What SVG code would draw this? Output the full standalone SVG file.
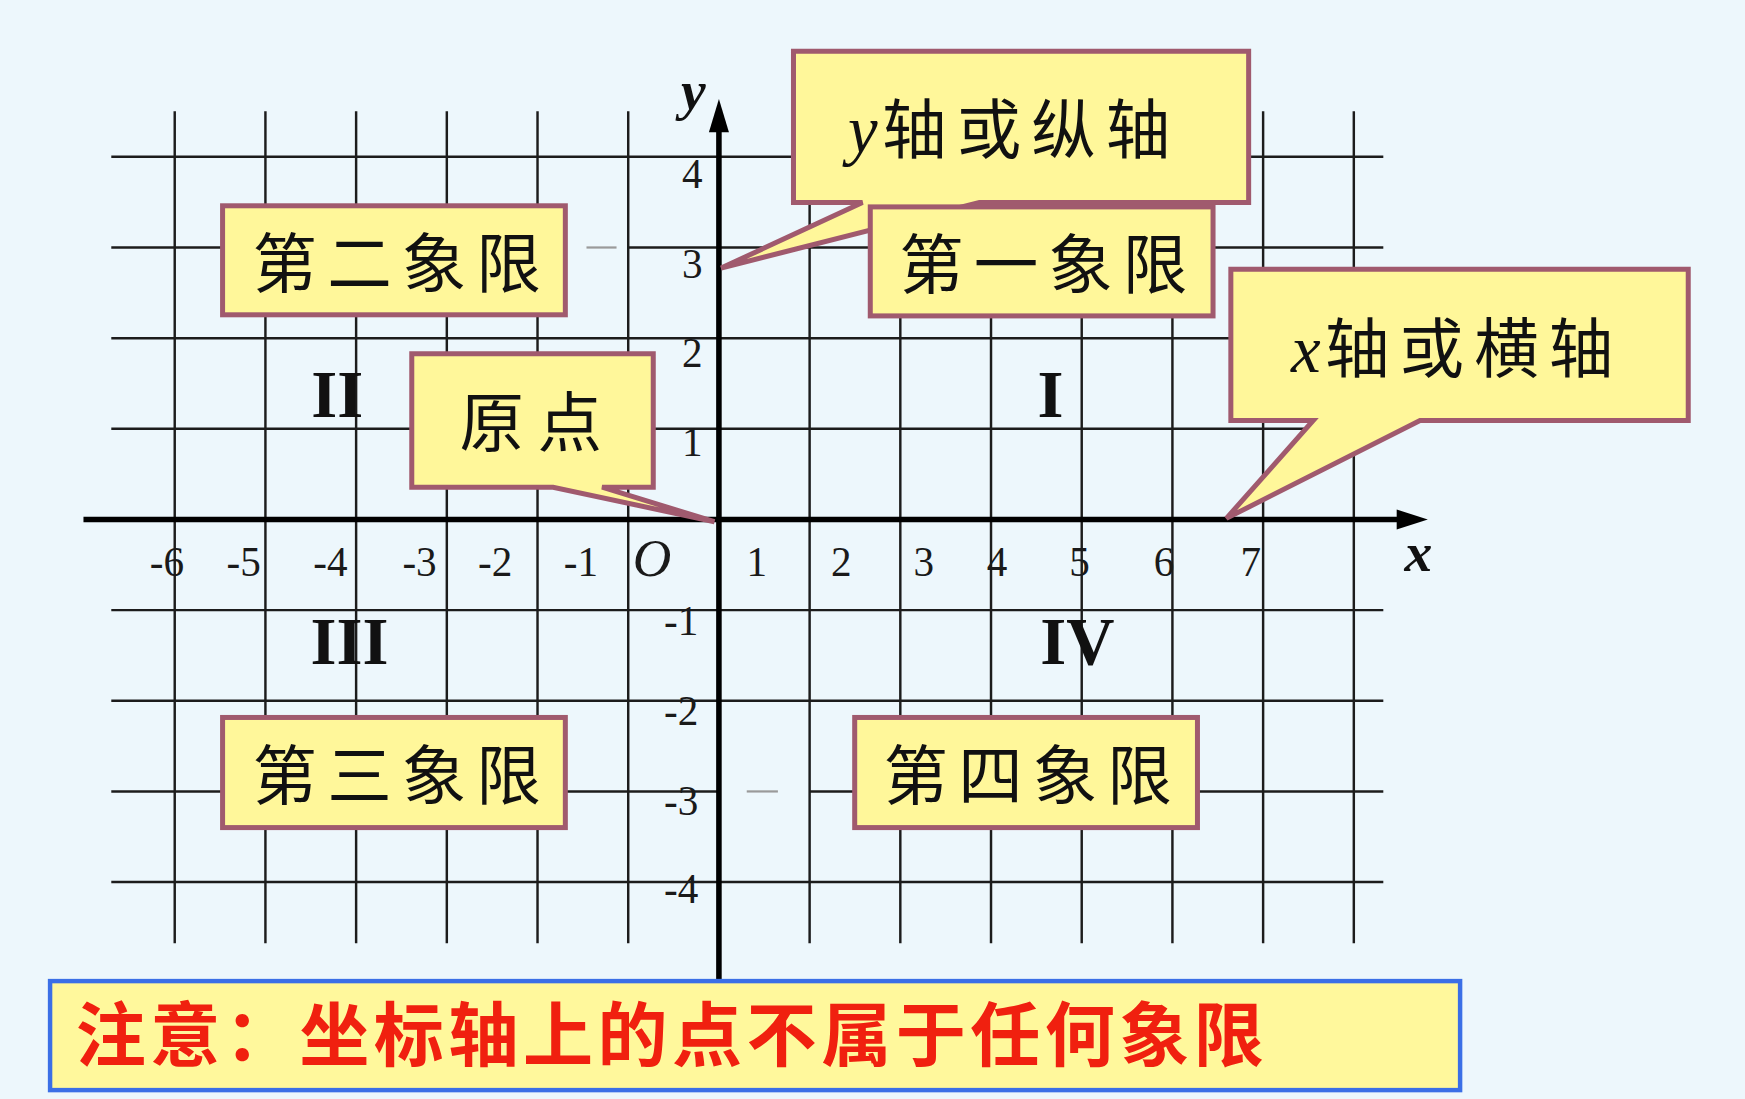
<svg xmlns="http://www.w3.org/2000/svg" width="1745" height="1099" viewBox="0 0 1745 1099">
<defs>
<style>
.grid line{stroke:#1c1c1c;stroke-width:2.2}
.faint{stroke:#9a9a9a;stroke-width:2}
.axis{stroke:#000;stroke-width:5}
.num{font-family:"Liberation Serif","Times New Roman",serif;font-size:37px;fill:#1a1a1a;text-anchor:middle}
.roman{font-family:"Liberation Serif","Times New Roman",serif;font-size:60px;font-weight:bold;fill:#111;text-anchor:middle}
.var{font-family:"Liberation Serif","Times New Roman",serif;font-style:italic;font-weight:bold;font-size:50px;fill:#111}
.box{fill:#FFF79A;stroke:#A05A6E;stroke-width:4.5}
.cjk{font-family:"Noto Sans CJK SC","Noto Sans CJK TC",sans-serif;font-size:58px;letter-spacing:9px;fill:#111}
.ivar{font-family:"Liberation Serif","Times New Roman",serif;font-style:italic;font-size:60px;fill:#111}
.note{fill:#FFF89C;stroke:#3B6FE6;stroke-width:4}
.notetext{font-family:"Noto Sans CJK SC","Noto Sans CJK TC",sans-serif;font-size:63px;font-weight:bold;letter-spacing:4px;fill:#F0200F}
</style>
</defs>
<rect width="1745" height="1099" fill="#EDF7FC"/>
<g transform="scale(1.11288 1.11235)">
<g id="grid" class="grid">
<line x1="157" y1="100" x2="157" y2="848"/>
<line x1="238.5" y1="100" x2="238.5" y2="848"/>
<line x1="320" y1="100" x2="320" y2="848"/>
<line x1="401.5" y1="100" x2="401.5" y2="848"/>
<line x1="483" y1="100" x2="483" y2="848"/>
<line x1="564.5" y1="100" x2="564.5" y2="848"/>
<line x1="727.5" y1="100" x2="727.5" y2="848"/>
<line x1="809" y1="100" x2="809" y2="848"/>
<line x1="890.5" y1="100" x2="890.5" y2="848"/>
<line x1="972" y1="100" x2="972" y2="848"/>
<line x1="1053.5" y1="100" x2="1053.5" y2="848"/>
<line x1="1135" y1="100" x2="1135" y2="848"/>
<line x1="1216.5" y1="100" x2="1216.5" y2="848"/>
<line x1="100" y1="141" x2="1243" y2="141"/>
<line x1="100" y1="222.5" x2="508" y2="222.5"/>
<line x1="564" y1="222.5" x2="1243" y2="222.5"/>
<line x1="100" y1="304" x2="1243" y2="304"/>
<line x1="100" y1="385.5" x2="1243" y2="385.5"/>
<line x1="100" y1="548.5" x2="1243" y2="548.5"/>
<line x1="100" y1="630" x2="1243" y2="630"/>
<line x1="100" y1="711.5" x2="646" y2="711.5"/>
<line x1="727" y1="711.5" x2="1243" y2="711.5"/>
<line x1="100" y1="793" x2="1243" y2="793"/>
</g>
<g id="faint-marks">
<line class="faint" x1="527" y1="222.5" x2="554" y2="222.5"/>
<line class="faint" x1="671" y1="711.5" x2="699" y2="711.5"/>
</g>
<g id="axes">
<line class="axis" x1="75" y1="467" x2="1258" y2="467"/>
<polygon points="1283,467 1255,458 1255,476" fill="#000"/>
<line class="axis" x1="646" y1="882" x2="646" y2="115"/>
<polygon points="646,89 637,119 655,119" fill="#000"/>
<text class="var" x="612" y="98">y</text>
<text class="var" x="1262" y="513">x</text>
</g>
<g id="x-labels" class="num">
<text x="150" y="518">-6</text>
<text x="219" y="518">-5</text>
<text x="297" y="518">-4</text>
<text x="377" y="518">-3</text>
<text x="445" y="518">-2</text>
<text x="522" y="518">-1</text>
<text x="680" y="518">1</text>
<text x="756" y="518">2</text>
<text x="830" y="518">3</text>
<text x="896" y="518">4</text>
<text x="970" y="518">5</text>
<text x="1046" y="518">6</text>
<text x="1124" y="518">7</text>
</g>
<text x="586" y="518" style="font-family:'Liberation Serif','Times New Roman',serif;font-style:italic;font-size:48px;fill:#1a1a1a;text-anchor:middle">O</text>
<g id="y-labels" class="num">
<text x="622" y="169">4</text>
<text x="622" y="250">3</text>
<text x="622" y="330">2</text>
<text x="622" y="410">1</text>
<text x="612" y="571">-1</text>
<text x="612" y="652">-2</text>
<text x="612" y="733">-3</text>
<text x="612" y="812">-4</text>
</g>
<g id="quadrant-numerals" class="roman">
<text x="303" y="375">II</text>
<text x="944" y="375">I</text>
<text x="314" y="597">III</text>
<text x="968" y="597">IV</text>
</g>
<g id="callout-y-axis">
<path class="box" d="M713,46 H1122 V182 H880 L648,241 L775,182 H713 Z"/>
<text x="762" y="138"><tspan class="ivar">y</tspan><tspan class="cjk" dx="4">轴或纵轴</tspan></text>
</g>
<g id="box-q2">
<rect class="box" x="200" y="185" width="308" height="98"/>
<text class="cjk" x="227" y="258">第二象限</text>
</g>
<g id="box-q1">
<rect class="box" x="782" y="186" width="308" height="98"/>
<text class="cjk" x="808" y="259">第一象限</text>
</g>
<g id="callout-x-axis">
<path class="box" d="M1106,242 H1517 V378 H1276 L1102,466 L1180,378 H1106 Z"/>
<text x="1160" y="334"><tspan class="ivar">x</tspan><tspan class="cjk" dx="4">轴或横轴</tspan></text>
</g>
<g id="callout-origin">
<path class="box" d="M370,318 H587 V438 H541 L642,469 L497,438 H370 Z"/>
<text class="cjk" x="413" y="401" style="letter-spacing:12px">原点</text>
</g>
<g id="box-q3">
<rect class="box" x="200" y="645" width="308" height="99"/>
<text class="cjk" x="227" y="718">第三象限</text>
</g>
<g id="box-q4">
<rect class="box" x="768" y="645" width="308" height="99"/>
<text class="cjk" x="794" y="718">第四象限</text>
</g>
<g id="note">
<rect class="note" x="45" y="882" width="1267" height="98"/>
<text class="notetext" x="68" y="954">注意：坐标轴上的点不属于任何象限</text>
</g>
</g>
</svg>
